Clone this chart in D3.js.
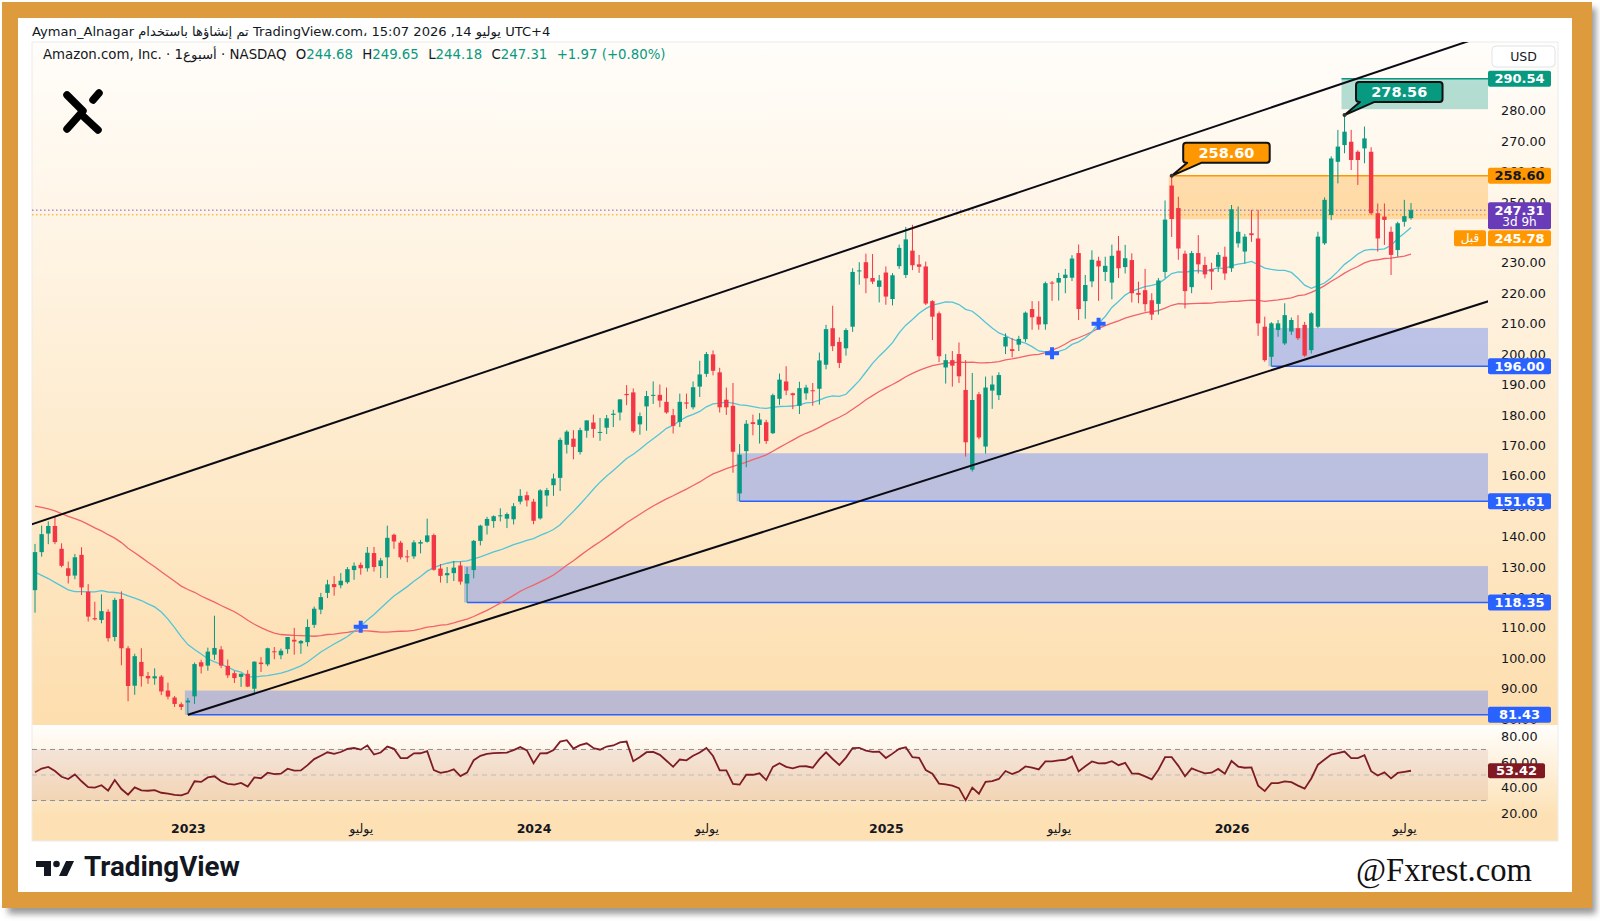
<!DOCTYPE html>
<html>
<head>
<meta charset="utf-8">
<title>Amazon weekly</title>
<script src="https://cdn.jsdelivr.net/npm/d3@7"></script>
<style>
  body { margin: 0; background: #fff; }
  svg { display: block; }
</style>
</head>
<body>
<div id="chart"></div>
<script>
// weekly bars [open, high, low, close], first bar = week of 25 Jul 2022
const candles = [
  [122.4,137.6,115.0,134.9],[134.9,143.6,133.4,140.8],[141.0,145.0,137.5,143.5],[143.5,146.6,137.5,138.2],
  [136.0,137.8,129.9,130.4],[129.6,131.8,124.6,127.1],[127.2,134.3,126.0,133.2],[134.0,136.5,120.8,123.3],
  [121.9,124.4,112.1,113.7],[113.2,118.6,112.4,112.8],[112.6,121.0,111.5,115.5],[115.3,116.1,105.5,106.6],
  [107.0,119.9,105.6,119.2],[119.5,122.0,97.7,103.3],[103.3,104.0,85.9,90.9],[91.0,101.5,88.0,100.7],
  [98.8,103.3,90.7,94.1],[94.2,95.5,91.6,93.4],[93.4,96.7,91.3,94.1],[94.0,94.5,87.9,89.1],
  [89.4,92.0,86.5,87.4],[87.1,87.6,84.0,85.0],[84.9,85.5,83.0,84.0],[85.5,86.96,81.43,86.1],
  [87.5,98.6,85.0,98.1],[98.7,99.5,95.0,97.3],[97.6,103.5,95.9,102.2],[101.2,114.0,99.5,103.4],
  [102.9,104.0,96.8,97.6],[97.5,99.6,93.5,94.4],[95.1,95.8,91.9,93.5],[93.9,95.0,90.6,94.9],
  [94.9,96.1,90.5,90.7],[90.0,99.0,88.3,98.9],[98.6,100.4,95.5,98.1],[98.0,103.5,97.4,103.3],
  [102.3,103.7,99.7,102.1],[101.0,103.2,99.7,102.5],[103.0,107.0,101.5,107.0],[106.1,110.0,101.2,105.5],
  [104.9,106.0,101.5,105.7],[105.3,112.8,103.9,110.3],[111.0,117.0,110.0,116.3],[116.0,121.5,114.5,120.1],
  [121.5,125.8,119.8,124.3],[124.4,127.0,120.6,123.4],[124.0,128.0,123.0,125.5],[125.0,130.0,124.5,129.3],
  [129.0,131.5,125.8,130.4],[130.7,131.5,127.5,129.6],[129.6,136.6,128.5,134.7],[134.6,136.6,128.5,130.0],
  [130.3,133.0,126.4,132.2],[133.2,143.6,126.4,139.6],[140.6,141.0,136.0,138.4],[138.0,138.6,132.5,133.2],
  [133.5,135.6,131.6,133.3],[133.5,138.8,132.7,138.1],[137.7,138.9,134.5,138.2],[138.3,145.9,138.0,140.4],
  [140.5,141.0,128.8,129.1],[129.5,131.0,124.9,127.1],[127.3,130.0,124.7,128.0],[128.0,132.0,125.4,129.8],
  [130.5,131.8,124.2,125.2],[124.6,130.0,118.35,127.7],[129.0,138.9,126.3,138.6],[138.6,143.9,137.1,143.6],
  [143.6,146.5,140.7,145.8],[145.1,147.0,142.9,146.7],[146.7,149.3,145.0,147.0],[145.9,147.9,142.8,147.4],
  [145.7,151.0,144.0,150.0],[151.5,155.6,150.6,153.4],[153.6,154.8,149.9,151.9],[151.5,152.4,144.05,145.2],
  [146.0,155.6,145.6,155.2],[153.5,156.0,149.9,155.3],[156.9,160.7,153.4,159.1],[159.3,172.5,155.0,171.8],
  [170.2,175.0,167.3,174.5],[172.2,175.0,165.4,169.5],[167.8,175.8,167.0,175.0],[174.8,178.2,172.5,178.2],
  [177.5,180.1,172.5,175.4],[174.3,179.0,171.5,174.4],[175.8,180.0,173.7,178.9],[180.0,181.7,176.0,180.4],
  [180.8,185.2,178.2,185.1],[186.9,189.8,183.2,186.5],[187.4,188.7,174.1,174.6],[176.9,180.8,173.5,179.6],
  [182.8,187.9,174.8,186.2],[186.3,191.0,183.6,186.6],[186.6,190.0,182.5,184.7],[184.3,189.0,180.4,180.8],
  [179.9,182.0,173.9,176.4],[177.7,187.0,176.0,184.3],[184.1,187.0,182.0,183.7],[182.5,191.0,181.8,189.1],
  [189.3,197.8,185.9,193.3],[193.5,200.7,192.5,200.0],[199.9,201.2,193.0,194.5],[194.0,195.5,180.8,182.5],
  [185.0,189.0,180.0,182.5],[183.0,190.5,161.0,167.9],[154.2,170.4,151.61,166.9],[168.1,178.3,162.8,177.1],
  [177.6,180.1,173.3,177.0],[176.7,180.6,170.6,178.5],[177.6,178.4,170.5,171.4],[174.0,187.0,173.7,186.5],
  [185.3,193.6,183.3,191.6],[191.0,196.0,186.5,188.0],[187.1,187.3,181.9,186.5],[183.0,190.9,180.3,188.8],
  [187.1,189.9,185.0,189.0],[188.1,190.5,183.0,187.8],[188.6,200.5,183.4,197.9],[196.5,209.6,195.0,208.2],
  [208.5,215.9,201.0,202.6],[204.0,205.5,195.4,197.1],[201.9,208.5,199.5,207.9],[209.0,228.2,207.3,227.0],
  [227.2,230.2,222.8,227.5],[230.2,233.0,220.0,224.9],[225.0,232.9,223.0,223.8],[222.1,226.0,217.0,224.2],
  [226.8,228.8,216.2,218.9],[218.1,226.6,216.0,225.9],[228.9,236.0,228.0,234.9],[226.0,241.8,225.0,237.7],
  [234.0,242.5,227.6,229.2],[229.5,232.6,226.7,228.7],[228.8,230.4,216.1,216.6],[217.4,217.7,204.6,212.3],
  [213.4,214.0,197.4,199.3],[195.6,200.0,190.3,198.0],[198.0,201.0,189.3,196.2],[200.0,203.8,190.5,192.7],
  [188.2,198.0,166.3,171.0],[162.0,193.8,161.38,184.9],[186.8,187.5,172.0,172.6],[169.6,192.6,167.3,189.0],
  [188.0,192.9,182.0,190.0],[186.5,194.0,184.9,193.1],[202.5,206.8,200.0,205.6],[201.6,205.3,198.9,201.0],
  [203.1,206.0,201.0,205.0],[204.9,214.0,204.0,213.6],[214.8,217.4,208.0,212.1],[212.3,217.4,208.0,209.7],
  [209.8,223.8,208.0,223.3],[223.5,224.0,217.5,223.4],[223.5,226.7,217.6,225.0],[225.0,228.0,220.0,226.1],
  [225.1,232.5,224.0,231.4],[233.2,236.0,211.2,214.8],[217.4,226.0,211.6,222.7],[223.9,234.1,222.0,231.0],
  [230.7,232.0,217.5,228.8],[227.0,232.0,224.0,229.0],[223.5,236.0,218.0,232.3],[234.0,238.8,225.0,228.2],
  [228.6,235.9,226.5,231.5],[230.9,233.1,217.0,220.0],[220.1,223.8,216.7,219.5],[221.0,228.0,214.0,216.4],
  [217.7,220.0,211.2,213.0],[216.5,225.0,213.0,224.2],[227.0,250.5,225.0,244.2],[255.4,258.6,238.5,244.4],
  [248.0,251.7,231.0,234.7],[233.0,234.0,215.0,220.7],[222.0,233.9,220.0,233.2],[233.2,239.1,226.5,229.5],
  [229.3,232.0,224.9,226.2],[227.9,230.0,221.1,227.1],[228.7,233.5,227.0,232.6],[232.0,235.3,224.4,226.5],
  [228.2,249.0,227.0,247.6],[236.4,248.5,235.0,240.2],[233.7,239.5,229.8,238.6],[239.7,247.4,236.9,239.1],
  [238.0,247.4,206.0,210.1],[209.0,212.3,197.5,198.0],[199.1,210.5,196.0,210.1],[207.9,211.2,205.7,210.1],
  [203.5,216.7,203.0,212.8],[207.4,212.0,206.3,211.2],[208.5,212.8,204.6,205.2],[209.6,210.6,199.1,199.5],
  [201.3,213.8,200.2,213.4],[209.0,240.2,208.5,238.6],[236.4,251.5,235.9,250.7],[245.7,265.0,244.0,264.3],
  [263.2,273.7,256.1,268.2],[268.7,278.56,266.0,273.1],[269.8,273.7,260.5,263.8],[266.5,267.0,255.6,263.8],
  [267.6,274.8,262.7,270.9],[266.5,268.0,245.7,246.3],[246.3,249.5,233.7,238.0],[245.2,249.5,235.9,244.1],
  [240.2,241.9,226.0,232.6],[234.2,243.5,232.0,243.0],[243.5,250.7,241.9,245.34],[244.68,249.65,244.18,247.31]
];

// weekly closes before the first bar (warm-up for the averages and RSI)
const priorCloses = [
  160.0,167.4,173.9,173.5,173.1,171.3,164.2,164.5,170.4,166.8,168.6,175.9,176.3,183.8,175.2,169.5,
  173.5,168.8,171.1,166.7,162.6,162.1,142.6,143.9,157.6,153.3,152.5,153.8,145.6,145.5,161.3,164.8,
  163.6,154.5,151.7,144.4,124.3,114.8,113.1,107.6,115.1,122.4,109.7,106.2,116.5,109.6,115.5,113.6,122.4
];

const timeTickIdx = [23, 49, 75, 101, 128, 154, 180, 206];
const timeTickLabels = ["2023", "يوليو", "2024", "يوليو", "2025", "يوليو", "2026", "يوليو"];
// 240 and 290 sit fully under the price labels, so they are left out
const priceTicks = [80, 90, 100, 110, 120, 130, 140, 150, 160, 170, 180, 190, 200, 210, 220, 230, 250, 260, 270, 280];
const rsiTicks = [20, 40, 60, 80];
const rsiLevels = [70, 50, 30];

const blueZones = [
  { from: 23, lo: 81.43, hi: 89.4 },
  { from: 65, lo: 118.35, hi: 130.3 },
  { from: 106, lo: 151.61, hi: 167.4 },
  { from: 186, lo: 196.00, hi: 208.6 }
];
const orangeZone = { from: 171, lo: 244.3, hi: 258.60 };
const tealZone = { from: 197, lo: 280.5, hi: 290.54 };
const upperChannel = [[3, 146.6], [132, 241.4]];
const lowerChannel = [[23, 81.43], [185, 194.0]];
const crosses = [[49, 110.4], [153, 200.3], [160, 210.0]];
const callouts = [
  { i: 171, price: 258.60, text: "258.60", fill: "#ff9800" },
  { i: 197, price: 278.56, text: "278.56", fill: "#089981" }
];
const lastClose = 247.31, preMarket = 245.78, rsiLast = 53.42;

const up = "#089981", down = "#f23645", blue = "#2962ff";
const font = "'DejaVu Sans', sans-serif";

const W = 1600, H = 921;
const plotL = 32, plotR = 1488, axisR = 1558;
const priceTop = 42, priceBot = 725, rsiBot = 818, panelBot = 841;

const svg = d3.select("#chart").append("svg")
  .attr("width", W).attr("height", H)
  .style("font-family", font);
const defs = svg.append("defs");

// scales
const x = d3.scaleLinear().domain([0, candles.length - 1]).range([35, 1411]);
const y = d3.scaleLinear().domain([100, 280]).range([658.3, 110.7]);
const yR = d3.scaleLinear().domain([20, 80]).range([813.3, 736.7]);

// indicators
const allCloses = priorCloses.concat(candles.map(d => d[3]));
const off = priorCloses.length;
const sma = n => candles.map((d, i) => d3.mean(allCloses.slice(off + i - n + 1, off + i + 1)));
const rsi = n => {
  let ag = 0, al = 0;
  const out = [];
  for (let k = 1; k < allCloses.length; k++) {
    const ch = allCloses[k] - allCloses[k - 1];
    const g = Math.max(ch, 0), l = Math.max(-ch, 0);
    if (k <= n) { ag += g / n; al += l / n; }
    else { ag = (ag * (n - 1) + g) / n; al = (al * (n - 1) + l) / n; }
    if (k >= off) out.push(al === 0 ? 100 : 100 - 100 / (1 + ag / al));
  }
  return out;
};
const ma20 = sma(20), ma50 = sma(50), rsi14 = rsi(14);

// ---- frame ----
const blur = defs.append("filter").attr("id", "blur").attr("x", "-5%").attr("y", "-5%").attr("width", "110%").attr("height", "110%");
blur.append("feGaussianBlur").attr("stdDeviation", 3);
svg.append("rect").attr("x", 8).attr("y", 8).attr("width", 1588).attr("height", 906)
  .attr("fill", "#9a9a9a").attr("filter", "url(#blur)");
svg.append("rect").attr("x", 2).attr("y", 2).attr("width", 1590).attr("height", 906).attr("fill", "#dd9b3e");
svg.append("rect").attr("x", 18).attr("y", 18).attr("width", 1554).attr("height", 874).attr("fill", "#ffffff");

// ---- backgrounds ----
const grad = (id, c0, c1) => {
  const lg = defs.append("linearGradient").attr("id", id).attr("x1", 0).attr("y1", 0).attr("x2", 0).attr("y2", 1);
  lg.append("stop").attr("offset", "0%").attr("stop-color", c0);
  lg.append("stop").attr("offset", "100%").attr("stop-color", c1);
};
grad("gPrice", "#fffdfa", "#fddeae");
grad("gRsi", "#fffefc", "#fde0b3");
svg.append("rect").attr("x", plotL).attr("y", priceTop).attr("width", axisR - plotL).attr("height", priceBot - priceTop).attr("fill", "url(#gPrice)");
svg.append("rect").attr("x", plotL).attr("y", priceBot).attr("width", axisR - plotL).attr("height", rsiBot - priceBot).attr("fill", "url(#gRsi)");
svg.append("rect").attr("x", plotL).attr("y", rsiBot).attr("width", axisR - plotL).attr("height", panelBot - rsiBot).attr("fill", "#fde0b3");
svg.append("rect").attr("x", plotL).attr("y", priceTop).attr("width", axisR - plotL).attr("height", panelBot - priceTop)
  .attr("fill", "none").attr("stroke", "#ececec");

defs.append("clipPath").attr("id", "cPrice").append("rect")
  .attr("x", plotL).attr("y", priceTop).attr("width", plotR - plotL).attr("height", priceBot - priceTop);
defs.append("clipPath").attr("id", "cRsi").append("rect")
  .attr("x", plotL).attr("y", priceBot).attr("width", plotR - plotL).attr("height", rsiBot - priceBot);
defs.append("clipPath").attr("id", "cPriceAxis").append("rect")
  .attr("x", plotR).attr("y", priceTop).attr("width", axisR - plotR).attr("height", priceBot - priceTop);

// ---- price pane ----
const pg = svg.append("g").attr("clip-path", "url(#cPrice)");

// zones
const zoneRect = (z, fill) => pg.append("rect")
  .attr("x", x(z.from) - 3).attr("y", y(z.hi))
  .attr("width", plotR - x(z.from) + 3).attr("height", y(z.lo) - y(z.hi))
  .attr("fill", fill);
zoneRect(tealZone, "rgba(8,153,129,0.3)");
pg.append("line").attr("x1", x(tealZone.from) - 3).attr("x2", plotR)
  .attr("y1", y(tealZone.hi)).attr("y2", y(tealZone.hi)).attr("stroke", up).attr("stroke-width", 1.5);
zoneRect(orangeZone, "rgba(255,152,0,0.28)");
pg.append("line").attr("x1", x(orangeZone.from)).attr("x2", plotR)
  .attr("y1", y(orangeZone.hi)).attr("y2", y(orangeZone.hi)).attr("stroke", "#ff9800").attr("stroke-width", 1.5);
blueZones.forEach(z => {
  zoneRect(z, "rgba(121,150,244,0.5)");
  pg.append("line").attr("x1", x(z.from)).attr("x2", plotR)
    .attr("y1", y(z.lo)).attr("y2", y(z.lo)).attr("stroke", blue).attr("stroke-width", 1.6);
});

// last price / pre-market dotted lines
pg.append("line").attr("x1", plotL).attr("x2", plotR).attr("y1", y(lastClose)).attr("y2", y(lastClose))
  .attr("stroke", "#7e57c2").attr("stroke-dasharray", "1.5,2.5");
pg.append("line").attr("x1", plotL).attr("x2", plotR).attr("y1", y(preMarket)).attr("y2", y(preMarket))
  .attr("stroke", "#ff9800").attr("stroke-dasharray", "1.5,2.5");

// moving averages
const maLine = d3.line().x((d, i) => x(i)).y(d => y(d));
pg.append("path").attr("d", maLine(ma50)).attr("fill", "none").attr("stroke", "#f0636b").attr("stroke-width", 1.3);
pg.append("path").attr("d", maLine(ma20)).attr("fill", "none").attr("stroke", "#52c5d8").attr("stroke-width", 1.3);

// candles
const bars = pg.append("g").selectAll("g").data(candles).join("g")
  .attr("fill", d => d[3] >= d[0] ? up : down)
  .attr("stroke", d => d[3] >= d[0] ? up : down);
bars.append("line")
  .attr("x1", (d, i) => x(i)).attr("x2", (d, i) => x(i))
  .attr("y1", d => y(d[1])).attr("y2", d => y(d[2]))
  .attr("stroke-width", 1);
bars.append("rect")
  .attr("x", (d, i) => x(i) - 2.2).attr("width", 4.4)
  .attr("y", d => y(Math.max(d[0], d[3])))
  .attr("height", d => Math.max(1, Math.abs(y(d[0]) - y(d[3]))))
  .attr("stroke", "none");

// MA cross markers
pg.selectAll(".cross").data(crosses).join("path")
  .attr("class", "cross")
  .attr("transform", d => `translate(${x(d[0])},${y(d[1])})`)
  .attr("d", "M-7,0H7M0,-6V6")
  .attr("stroke", blue).attr("stroke-width", 4);

// channel lines
const chanAt = (pts, i) => pts[0][1] + (i - pts[0][0]) * (pts[1][1] - pts[0][1]) / (pts[1][0] - pts[0][0]);
[[upperChannel, -5], [lowerChannel, lowerChannel[0][0]]].forEach(([pts, i0]) => {
  const i1 = 240;
  pg.append("line")
    .attr("x1", x(i0)).attr("y1", y(chanAt(pts, i0)))
    .attr("x2", x(i1)).attr("y2", y(chanAt(pts, i1)))
    .attr("stroke", "#0b0b14").attr("stroke-width", 2);
});

// callouts
callouts.forEach(c => {
  const ax = x(c.i), ay = y(c.price);
  const bx0 = ax + 11.5, bx1 = ax + 98, by0 = ay - 33, by1 = ay - 13, r = 3;
  const t0 = bx0 + 4, t1 = bx0 + 18;
  pg.append("path")
    .attr("d", `M${bx0 + r},${by0}H${bx1 - r}Q${bx1},${by0} ${bx1},${by0 + r}V${by1 - r}Q${bx1},${by1} ${bx1 - r},${by1}` +
      `H${t1}L${ax},${ay}L${t0},${by1}H${bx0 + r}Q${bx0},${by1} ${bx0},${by1 - r}V${by0 + r}Q${bx0},${by0} ${bx0 + r},${by0}Z`)
    .attr("fill", c.fill).attr("stroke", "#111").attr("stroke-width", 2).attr("stroke-linejoin", "round");
  pg.append("circle").attr("cx", ax).attr("cy", ay).attr("r", 2).attr("fill", "#333");
  pg.append("text").attr("x", (bx0 + bx1) / 2).attr("y", (by0 + by1) / 2).attr("dy", "0.36em")
    .attr("text-anchor", "middle").attr("font-weight", "bold").attr("font-size", 14.5)
    .attr("fill", "#fff").text(c.text);
});

// ---- price axis ----
const pAxis = svg.append("g").attr("clip-path", "url(#cPriceAxis)")
  .append("g").attr("transform", `translate(${plotR},0)`)
  .call(d3.axisRight(y).tickValues(priceTicks).tickSize(0).tickPadding(13).tickFormat(d3.format(".2f")));
pAxis.select(".domain").remove();
pAxis.selectAll("text").attr("font-family", font).attr("font-size", 12.8).attr("fill", "#131722");

const axisLabel = (yy, text, fill, color, h = 16) => {
  svg.append("rect").attr("x", plotR).attr("y", yy - h / 2).attr("width", 63).attr("height", h)
    .attr("rx", 2).attr("fill", fill);
  svg.append("text").attr("x", plotR + 31.5).attr("y", yy).attr("dy", "0.36em")
    .attr("text-anchor", "middle").attr("font-size", 13).attr("font-weight", "bold")
    .attr("fill", color).text(text);
};
axisLabel(y(tealZone.hi), d3.format(".2f")(tealZone.hi), up, "#fff");
axisLabel(y(orangeZone.hi), d3.format(".2f")(orangeZone.hi), "#ff9800", "#131722");
blueZones.forEach(z => axisLabel(y(z.lo), d3.format(".2f")(z.lo), blue, "#fff"));

// last close (two lines)
const ly = y(lastClose);
svg.append("rect").attr("x", plotR).attr("y", ly - 8).attr("width", 63).attr("height", 27).attr("rx", 2).attr("fill", "#6a3bb8");
svg.append("text").attr("x", plotR + 31.5).attr("y", ly).attr("dy", "0.36em").attr("text-anchor", "middle")
  .attr("font-size", 13).attr("font-weight", "bold").attr("fill", "#fff").text(d3.format(".2f")(lastClose));
svg.append("text").attr("x", plotR + 31.5).attr("y", ly + 12).attr("dy", "0.36em").attr("text-anchor", "middle")
  .attr("font-size", 12).attr("fill", "#fff").text("3d 9h");
// pre-market label pushed below the last close label
const py = Math.max(y(preMarket), ly + 28);
axisLabel(py, d3.format(".2f")(preMarket), "#ff9800", "#fff");
svg.append("rect").attr("x", plotR - 34).attr("y", py - 8).attr("width", 32).attr("height", 16).attr("rx", 2).attr("fill", "#ff9800");
svg.append("text").attr("x", plotR - 18).attr("y", py).attr("dy", "0.36em").attr("text-anchor", "middle")
  .attr("font-size", 12).attr("fill", "#fff").text("قبل");

// USD box
svg.append("rect").attr("x", 1492).attr("y", 46).attr("width", 63).attr("height", 21).attr("rx", 4)
  .attr("fill", "#fff").attr("stroke", "#e0e3eb");
svg.append("text").attr("x", 1523.5).attr("y", 56.5).attr("dy", "0.36em").attr("text-anchor", "middle")
  .attr("font-size", 12.5).attr("fill", "#131722").text("USD");

// ---- RSI pane ----
const rg = svg.append("g").attr("clip-path", "url(#cRsi)");
rg.append("rect").attr("x", plotL).attr("y", yR(70)).attr("width", plotR - plotL).attr("height", yR(30) - yR(70))
  .attr("fill", "rgba(128,40,60,0.09)");
rg.selectAll(".lvl").data(rsiLevels).join("line").attr("class", "lvl")
  .attr("x1", plotL).attr("x2", plotR).attr("y1", d => yR(d)).attr("y2", d => yR(d))
  .attr("stroke", d => d === 50 ? "#b9bbc2" : "#8d9099").attr("stroke-dasharray", "5,4");
rg.append("path").attr("d", d3.line().x((d, i) => x(i)).y(d => yR(d))(rsi14))
  .attr("fill", "none").attr("stroke", "#7d1c24").attr("stroke-width", 1.8);

const rAxis = svg.append("g").attr("transform", `translate(${plotR},0)`)
  .call(d3.axisRight(yR).tickValues(rsiTicks).tickSize(0).tickPadding(13).tickFormat(d3.format(".2f")));
rAxis.select(".domain").remove();
rAxis.selectAll("text").attr("font-family", font).attr("font-size", 12.8).attr("fill", "#131722");
svg.append("rect").attr("x", plotR).attr("y", yR(rsiLast) - 7.5).attr("width", 57).attr("height", 15).attr("rx", 2).attr("fill", "#801922");
svg.append("text").attr("x", plotR + 28.5).attr("y", yR(rsiLast)).attr("dy", "0.36em").attr("text-anchor", "middle")
  .attr("font-size", 13).attr("font-weight", "bold").attr("fill", "#fff").text(d3.format(".2f")(rsiLast));

// ---- time axis ----
const tAxis = svg.append("g").attr("transform", `translate(0,${rsiBot})`)
  .call(d3.axisBottom(x).tickValues(timeTickIdx).tickSize(0).tickPadding(6).tickFormat((d, k) => timeTickLabels[k]));
tAxis.select(".domain").remove();
tAxis.selectAll("text").attr("font-family", font).attr("font-size", 12.5).attr("fill", "#131722")
  .attr("font-weight", (d, k) => k % 2 === 0 ? "bold" : "normal");

// ---- header text ----
function textRow(segs, x0, yb, size, targetW, weight) {
  const g = svg.append("g");
  const draw = fs => {
    g.selectAll("*").remove();
    let cx = x0;
    segs.forEach((s, k) => {
      const t = g.append("text").attr("x", cx).attr("y", yb).attr("font-size", fs)
        .attr("font-weight", weight || "normal").attr("fill", s.c || "#131722").text(s.t);
      cx += t.node().getComputedTextLength() + (k < segs.length - 1 ? (s.g ?? 0.32) * fs : 0);
    });
    return cx - x0;
  };
  const w = draw(size);
  if (targetW) draw(size * targetW / w);
}
textRow([
  { t: "Ayman_Alnagar" }, { t: "تم إنشاؤها باستخدام" }, { t: "TradingView.com،" },
  { t: "15:07 2026 ,14" }, { t: "يوليو" }, { t: "UTC+4" }
], 32, 36, 12.5, 519);
textRow([
  { t: "Amazon.com, Inc." }, { t: "·" }, { t: "1", g: 0 }, { t: "أسبوع" }, { t: "·" }, { t: "NASDAQ", g: 0.7 },
  { t: "O", g: 0 }, { t: "244.68", c: up, g: 0.7 }, { t: "H", g: 0 }, { t: "249.65", c: up, g: 0.7 },
  { t: "L", g: 0 }, { t: "244.18", c: up, g: 0.7 }, { t: "C", g: 0 }, { t: "247.31", c: up, g: 0.7 },
  { t: "+1.97 (+0.80%)", c: up }
], 43, 58.5, 12.5, 623);

// ---- logos ----
const logo = svg.append("g").attr("fill", "none").attr("stroke", "#000").attr("stroke-width", 7.5)
  .attr("stroke-linecap", "round").attr("stroke-linejoin", "round");
logo.append("path").attr("d", "M67,95L83,111L67,129");
logo.append("path").attr("d", "M99,93L93,100");
logo.append("path").attr("d", "M84,117L98,130");

const tv = svg.append("g").attr("fill", "#131722");
tv.append("path").attr("d", "M36,861H51V876H44V867H36Z");
tv.append("circle").attr("cx", 56.5).attr("cy", 864).attr("r", 3.3);
tv.append("path").attr("d", "M59,876L66,861H74L67,876Z");
const fitText = (sel, target) => {
  const w = sel.node().getComputedTextLength();
  sel.attr("font-size", +sel.attr("font-size") * target / w);
};
fitText(svg.append("text").attr("x", 84).attr("y", 876).attr("font-family", "Roboto, sans-serif")
  .attr("font-weight", "bold").attr("font-size", 22).attr("fill", "#131722").text("TradingView"), 156);
fitText(svg.append("text").attr("x", 1356).attr("y", 881).attr("font-family", "'Liberation Serif', serif")
  .attr("font-size", 30).attr("fill", "#111").text("@Fxrest.com"), 176);
</script>
</body>
</html>
